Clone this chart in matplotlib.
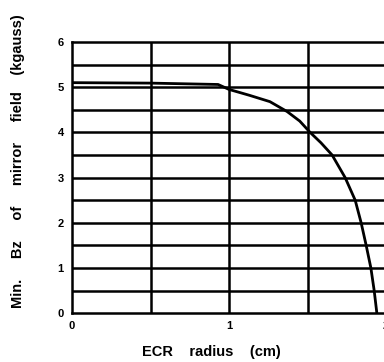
import matplotlib.pyplot as plt
import numpy as np

# data
radius = [0.0, 0.5, 0.93, 1.0, 1.13, 1.26, 1.37, 1.45, 1.516, 1.585, 1.656,
          1.739, 1.803, 1.841, 1.873, 1.903, 1.924, 1.941]
bz_min = [5.1, 5.09, 5.06, 4.95, 4.82, 4.68, 4.46, 4.25, 4.0, 3.77, 3.5,
          3.0, 2.5, 2.0, 1.5, 1.0, 0.5, 0.0]
x_ticks = [0, 1, 2]
y_ticks = [0, 1, 2, 3, 4, 5, 6]

plt.rcParams['font.family'] = ['Liberation Sans', 'DejaVu Sans']

fig = plt.figure(figsize=(3.84, 3.62), dpi=100)
ax = fig.add_axes([0.1875, 0.135, 0.818, 0.749])

# grid every 0.5 in both directions
for gx in np.arange(0.5, 2.0, 0.5):
    ax.axvline(gx, color='black', lw=1.8, zorder=1)
for gy in np.arange(0.5, 6.0, 0.5):
    ax.axhline(gy, color='black', lw=1.8, zorder=1)

ax.plot(radius, bz_min, color='black', lw=2.0, zorder=3)

ax.set_xlim(0, 2)
ax.set_ylim(0, 6)
ax.set_xticks(x_ticks)
ax.set_yticks(y_ticks)
ax.set_xticklabels([str(t) for t in x_ticks], fontsize=8, fontweight='bold')
ax.set_yticklabels([str(t) for t in y_ticks], fontsize=8, fontweight='bold')
ax.tick_params(length=0, pad=6)

for s in ax.spines.values():
    s.set_linewidth(1.8)
    s.set_color('black')

fig.text(0.55, 0.027, "ECR    radius    (cm)", fontsize=10.5, fontweight='bold',
         ha='center', va='center')
fig.text(0.047, 0.555, "Min.     Bz     of     mirror     field    (kgauss)",
         fontsize=10.5, fontweight='bold', rotation=90, ha='center', va='center')

fig.savefig("out.png", dpi=100)
